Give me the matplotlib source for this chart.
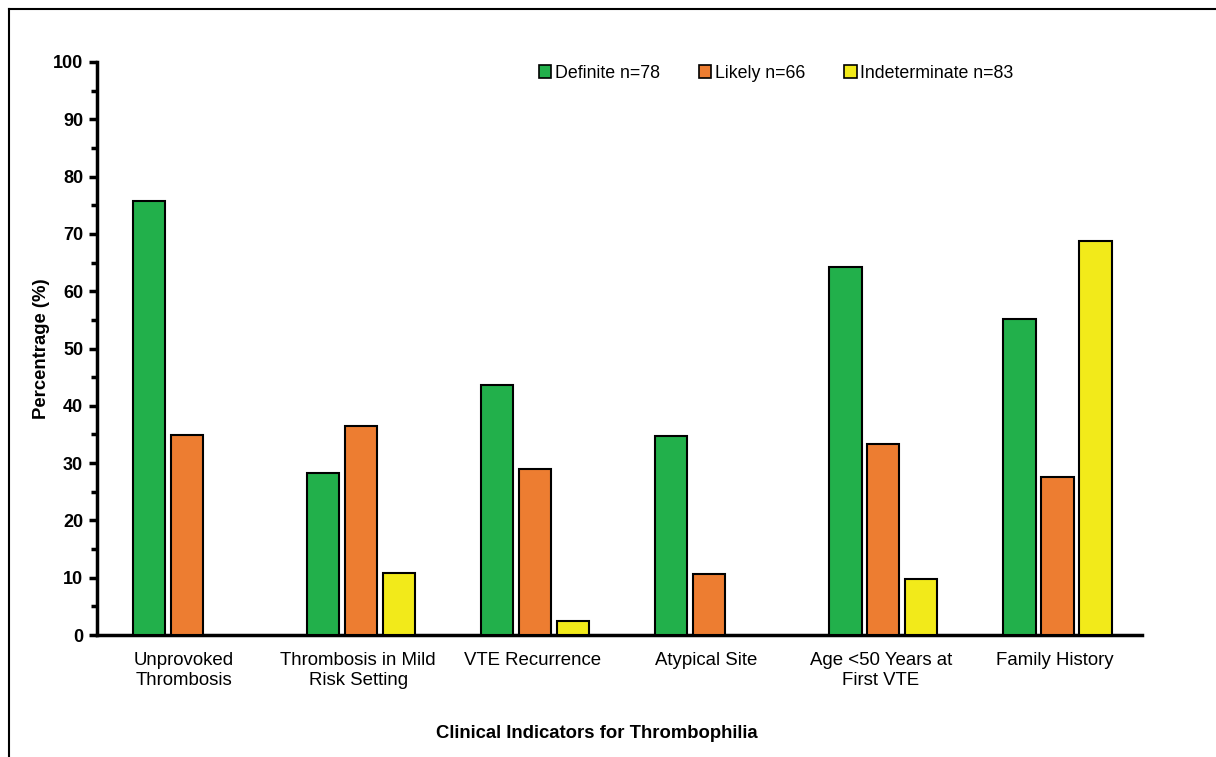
import matplotlib.pyplot as plt
from matplotlib.lines import Line2D
import numpy as np

plt.rcParams.update({
    'font.family': ['Liberation Sans', 'DejaVu Sans'],
    'font.size': 13,
})

categories = ["Unprovoked\nThrombosis", "Thrombosis in Mild\nRisk Setting", "VTE Recurrence",
              "Atypical Site", "Age <50 Years at\nFirst VTE", "Family History"]
definite = [75.7, 28.2, 43.7, 34.7, 64.2, 55.2]
likely = [34.9, 36.5, 28.9, 10.6, 33.3, 27.5]
indeterminate = [0, 10.9, 2.5, 0, 9.7, 68.8]
series_labels = ["Definite n=78", "Likely n=66", "Indeterminate n=83"]
series_colors = ['#22B04B', '#ED7D31', '#F2EA1A']
yticks = np.arange(0, 101, 10)

fig = plt.figure(figsize=(12.16, 7.57), dpi=100)
ax = fig.add_axes([97/1216, 1 - 635/757, (1142 - 97)/1216, (635 - 62)/757])

x = np.arange(len(categories))
width = 0.185
step = 0.218
for i, (vals, lab, col) in enumerate(zip([definite, likely, indeterminate], series_labels, series_colors)):
    v = np.array(vals, dtype=float)
    mask = v > 0
    ax.bar(x[mask] + (i - 1) * step + 0.015, v[mask], width, color=col,
           edgecolor='black', linewidth=1.5, label=lab, zorder=3)

ax.set_xlim(-0.5, len(categories) - 0.5)
ax.set_ylim(0, 100)
ax.set_yticks(yticks)
ax.set_yticklabels([str(t) for t in yticks], fontweight='bold', fontsize=13)
ax.set_yticks(np.arange(5, 100, 10), minor=True)
ax.tick_params(axis='y', which='major', direction='out', length=6, width=2.5, pad=4)
ax.tick_params(axis='y', which='minor', direction='out', length=4, width=2.5)
ax.set_xticks(x)
ax.set_xticklabels(categories, fontsize=13.4, linespacing=1.25)
ax.tick_params(axis='x', length=0, pad=12)

for s in ['top', 'right']:
    ax.spines[s].set_visible(False)
for s in ['left', 'bottom']:
    ax.spines[s].set_linewidth(2.5)

ax.set_ylabel("Percentrage (%)", fontweight='bold', fontsize=13.3, labelpad=2)
fig.text(597/1216, 1 - 733/757, "Clinical Indicators for Thrombophilia",
         fontweight='bold', fontsize=13.3, ha='center', va='center')

leg = fig.legend(loc='center', bbox_to_anchor=(776/1216, 1 - 73/757), ncol=3, frameon=False,
                 fontsize=12.8, handlelength=0.7, handleheight=0.7, handletextpad=0.2,
                 columnspacing=2.2, borderaxespad=0)
for h in leg.legend_handles:
    h.set_linewidth(1.2)

# figure border (top and left edges visible)
fig.add_artist(Line2D([9/1216, 1.0], [1 - 9/757, 1 - 9/757], transform=fig.transFigure,
                      color='black', linewidth=1.5))
fig.add_artist(Line2D([9/1216, 9/1216], [0, 1 - 9/757], transform=fig.transFigure,
                      color='black', linewidth=1.5))

fig.savefig("out.png", dpi=100)
